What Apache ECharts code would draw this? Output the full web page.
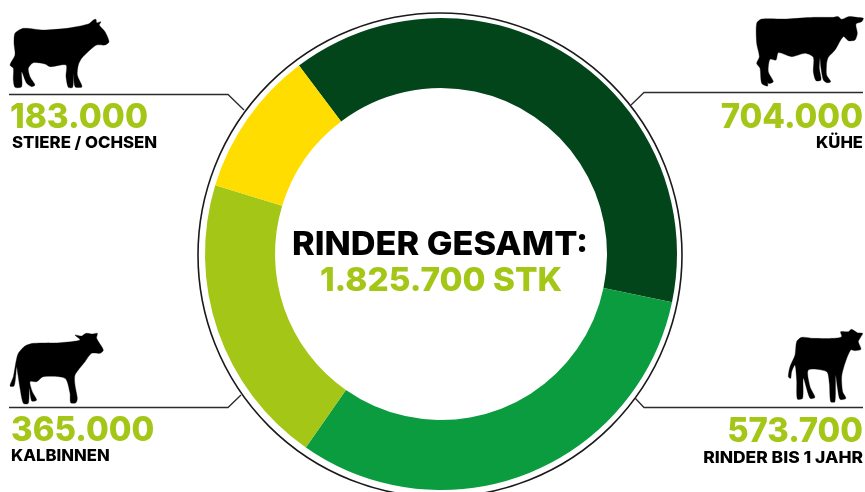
<!DOCTYPE html>
<html><head><meta charset="utf-8">
<style>html,body{margin:0;padding:0;background:#fff}#c{width:865px;height:492px}</style>
<script src="https://cdn.jsdelivr.net/npm/echarts@6/dist/echarts.min.js"></script>
</head><body><div id="c"></div>
<script>
var categories = ['KÜHE','RINDER BIS 1 JAHR','KALBINNEN','STIERE / OCHSEN'];
var values = [704000,573700,365000,183000];
var colors = ['#03451A','#0A9C3F','#A3C617','#FFDD00'];
var centerTitle = 'RINDER GESAMT:';
var centerValue = '1.825.700 STK';
var FONT = 'Inter, "Open Sans", sans-serif';

var bull = [[45,100],[70,85],[130,90],[200,85],[265,72],[280,60],[288,58],[290,68],[303,65],[298,75],[315,95],[327,125],[315,135],[290,135],[270,150],[245,175],[235,195],[232,225],[245,255],[245,262],[225,260],[221,222],[218,262],[205,262],[198,230],[198,195],[150,200],[135,192],[100,188],[85,205],[90,230],[105,255],[95,260],[80,250],[65,215],[65,260],[45,262],[40,240],[40,205],[30,195],[45,165],[42,130]];
var cow = [[470,70],[485,57],[560,57],[640,52],[700,52],[715,50],[725,58],[745,50],[770,52],[790,55],[785,65],[768,72],[772,100],[765,120],[745,122],[730,110],[705,150],[685,172],[680,190],[680,225],[692,245],[680,248],[670,240],[663,205],[660,175],[658,205],[663,240],[648,242],[640,215],[640,172],[615,160],[575,170],[535,158],[528,180],[510,178],[505,215],[520,245],[505,250],[500,225],[503,258],[485,250],[480,205],[470,190],[478,170],[470,130]];
var heifer = [[30,198],[40,170],[48,125],[55,100],[75,78],[100,70],[180,68],[240,60],[225,45],[245,48],[258,40],[275,42],[292,40],[290,55],[310,90],[300,100],[275,100],[255,125],[225,165],[225,195],[232,235],[228,248],[212,248],[210,220],[195,175],[130,170],[110,185],[90,185],[97,215],[110,240],[95,243],[88,205],[85,250],[70,250],[60,205],[54,165],[50,140],[47,170],[42,198]];
var calf = [[565,170],[570,140],[585,105],[590,65],[605,52],[640,55],[700,55],[725,50],[722,35],[745,35],[755,28],[772,38],[788,40],[780,55],[775,65],[783,88],[765,92],[752,90],[735,130],[725,170],[728,215],[738,235],[720,238],[712,200],[707,165],[705,245],[692,245],[688,190],[680,155],[625,150],[630,200],[645,232],[630,235],[610,175],[608,235],[592,237],[590,180],[585,135],[575,155],[572,175]];

function fmt(v){return String(v).replace(/\B(?=(\d{3})+$)/g,'.');}
function silhouette(pts,ox,oy){
  return {type:'polygon',x:ox,y:oy,scaleX:1/3,scaleY:1/3,silent:true,
    shape:{points:pts,smooth:0.25},style:{fill:'#000',stroke:'#000',lineWidth:1,lineJoin:'round'}};
}
function leader(pts){
  return {type:'polyline',silent:true,shape:{points:pts},style:{fill:null,stroke:'#2b2b2b',lineWidth:1.3}};
}
function txt(s,x,y,size,fill,align,sx){
  return {type:'text',x:x,y:y,scaleX:sx||1,silent:true,style:{text:s,fill:fill,font:'800 '+size+'px '+FONT,align:align,verticalAlign:'middle'}};
}
var lime = colors[2];
var graphics = [
  {type:'circle',silent:true,shape:{cx:440,cy:255,r:242},style:{fill:'none',stroke:'#1a1a1a',lineWidth:1.6},z:0},
  silhouette(bull,0,0),
  silhouette(cow,600,0),
  silhouette(heifer,0,320),
  silhouette(calf,600,320),
  leader([[9,94.5],[228,94.5],[244,110]]),
  leader([[863,92.5],[644,92.5],[631,105]]),
  leader([[9,407.5],[228,407.5],[241,395]]),
  leader([[863,407.5],[644,407.5],[635,398]]),
  txt(fmt(values[3]),10,118,34,lime,'left',0.98),
  txt(categories[3],12,143,16,'#000','left',1.05),
  txt(fmt(values[0]),863,118,34,lime,'right',0.97),
  txt(categories[0],863,143,16,'#000','right',1.04),
  txt(fmt(values[2]),11,431,34,lime,'left',0.97),
  txt(categories[2],11,456,16,'#000','left',1.04),
  txt(fmt(values[1]),863,432,34,lime,'right',0.965),
  txt(categories[1],863,458,16,'#000','right',1.09),
  txt(centerTitle,440,245,33,'#000','center',1.04),
  txt(centerValue,441,281,33,lime,'center',1.01)
];
var chart = echarts.init(document.getElementById('c'),null,{renderer:'canvas'});
chart.setOption({
  animation:false,
  backgroundColor:'#fff',
  graphic:{elements:graphics},
  series:[{
    type:'pie',center:[441,254],radius:[166,236],startAngle:127,clockwise:true,silent:true,
    label:{show:false},labelLine:{show:false},
    itemStyle:{borderWidth:0},
    data:categories.map(function(c,i){return {name:c,value:values[i],itemStyle:{color:colors[i]}};})
  }]
});
</script></body></html>
